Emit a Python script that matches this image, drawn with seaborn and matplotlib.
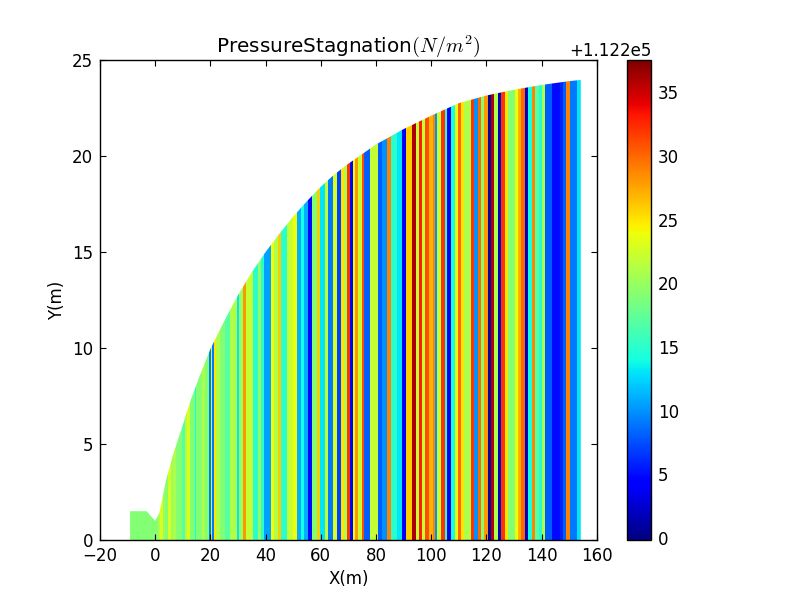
import numpy as np
import matplotlib
matplotlib.use("Agg")
import matplotlib.pyplot as plt
from matplotlib.cm import ScalarMappable
from matplotlib.colors import Normalize
from matplotlib.patches import Polygon
import seaborn as sns

# stripe edges along X(m), one more than the values
stripe_edges = [-9.1, 1.1, 1.7, 2.7, 3.5, 4.8, 5.6, 6.6, 7.5, 9.6, 10.8, 11.6, 12.6, 14.4, 14.8, 16.8, 18,
                19.4, 20.2, 20.5, 21.3, 21.9, 23.5, 25.3, 27.1, 29.5, 30.2, 31.7, 32.9, 35.3, 37.1,
                38.3, 39.5, 41.9, 43.2, 44.6, 45.4,
                47.6, 48.8, 50.0, 51.5, 53.0, 53.9, 55.5, 56.9, 58.5, 59.7, 61.5, 62.7, 64.3, 66.0,
                67.3, 68.4, 69.6, 70.6, 71.8, 72.5, 73.6, 74.8, 75.6, 77.8, 80.8, 82.0, 84.1, 85.3,
                87.5, 89.6, 90.8, 93.2, 94.5, 95.4, 96.5, 97.7, 99.2, 100.5, 101.3, 102.2,
                103.4, 104.9, 105.9, 107.1, 108.5, 109.6, 110.7, 111.9, 114.3, 115.4, 116.8, 118,
                119.2, 120.5, 121.6, 122.7, 124.1, 125.2, 126.7, 127.8, 130.3, 131.4, 132.6, 133.9,
                135, 136.4, 137.6, 138.9, 140.1, 141.2, 143.6, 146.6, 147.8, 148.8, 150.2, 152.9, 154.2]
# pressure above the 1.122e5 offset
stripe_values = [19, 21, 23, 20, 19, 23, 20, 21, 19, 17, 21, 23, 19, 14, 19, 21,
                 19, 9, 22, 9, 25, 21, 19, 17, 21, 13, 20, 28, 22, 15,
                 20, 15, 10.5, 24, 21, 26,
                 15, 22, 22, 24, 11, 14, 11, 5, 19, 26, 13, 22, 9, 23, 7,
                 25, 21, 32, 4, 24, 28, 22, 31, 8, 22, 8, 10, 29, 15,
                 13, 4, 26, 36, 22, 33, 22, 31, 27, 29, 10,
                 22, 32, 15, 3.5, 14, 24, 30, 25, 21, 32, 10, 30, 19,
                 28, 1, 36, 21, 2, 32, 25, 19, 24, 27, 30, 2,
                 14, 29, 17, 15, 21, 8, 5, 6, 8, 29, 9, 13]

# upper outline of the domain
outline_x = [-9.1, -9.1, -3.1, -1.9, 0, 1.5, 2.9, 3.9, 6.6, 10.2, 12.9, 16, 20, 25, 30, 35, 40, 45,
             50, 55, 60, 65, 70, 75, 80, 85, 90, 100, 110, 120, 130, 140, 150, 154.2, 154.2]
outline_y = [0, 1.5, 1.5, 1.3, 1.0, 1.4, 2.4, 3.1, 4.5, 6.08, 7.3, 8.5, 9.95, 11.4, 12.75, 13.95, 15.0, 15.95,
             16.85, 17.65, 18.4, 19.05, 19.6, 20.1, 20.6, 21.0, 21.4, 22.1, 22.75, 23.15, 23.45, 23.7, 23.9, 23.96, 0]

x_ticks = [-20, 0, 20, 40, 60, 80, 100, 120, 140, 160]
y_ticks = [0, 5, 10, 15, 20, 25]
cbar_ticks = [0, 5, 10, 15, 20, 25, 30, 35]
cbar_min = -0.15
cbar_max = 37.55

sns.set_style("ticks", {"xtick.direction": "in", "ytick.direction": "in", "axes.edgecolor": "black",
                        "text.color": "black", "axes.labelcolor": "black",
                        "xtick.color": "black", "ytick.color": "black"})
plt.rcParams["font.family"] = "DejaVu Sans"
plt.rcParams["font.size"] = 12
plt.rcParams["mathtext.fontset"] = "cm"

fig = plt.figure(figsize=(8, 6), dpi=100)
ax = fig.add_axes([0.125, 0.1, 0.621, 0.8])
cax = fig.add_axes([0.784, 0.1, 0.03, 0.8])

centers = [(a + b) / 2 for a, b in zip(stripe_edges[:-1], stripe_edges[1:])]
norm = Normalize(cbar_min, cbar_max)

sns.histplot(x=centers, weights=[25.0] * len(centers), bins=stripe_edges, ax=ax, linewidth=0, alpha=1)

outline = Polygon(np.column_stack([outline_x, outline_y]), closed=True, transform=ax.transData)
for bar, v in zip(ax.patches, stripe_values):
    bar.set_facecolor(plt.cm.jet(norm(v)))
    bar.set_edgecolor("none")
    bar.set_antialiased(False)
    bar.set_clip_path(outline)

ax.set_xlim(-20, 160)
ax.set_ylim(0, 25)
ax.set_xticks(x_ticks)
ax.set_yticks(y_ticks)
ax.tick_params(axis="both", labelsize=12, length=4, width=0.8, top=True, right=True, pad=5)
ax.set_axisbelow(False)
ax.set_xlabel("X(m)", fontsize=12)
ax.set_ylabel("Y(m)", fontsize=12)
ax.set_title(r"PressureStagnation$(N/m^2)$", fontsize=14.4, pad=6)
for s in ax.spines.values():
    s.set_visible(True)
    s.set_linewidth(1)

cb = fig.colorbar(ScalarMappable(norm=norm, cmap="jet"), cax=cax, ticks=cbar_ticks)
cb.ax.tick_params(direction="in", length=4, width=0.8, labelsize=12, pad=5)
cb.outline.set_linewidth(1)
fig.text(0.711, 0.907, "+1.122e5", fontsize=12)

fig.savefig("out.png", dpi=100)
